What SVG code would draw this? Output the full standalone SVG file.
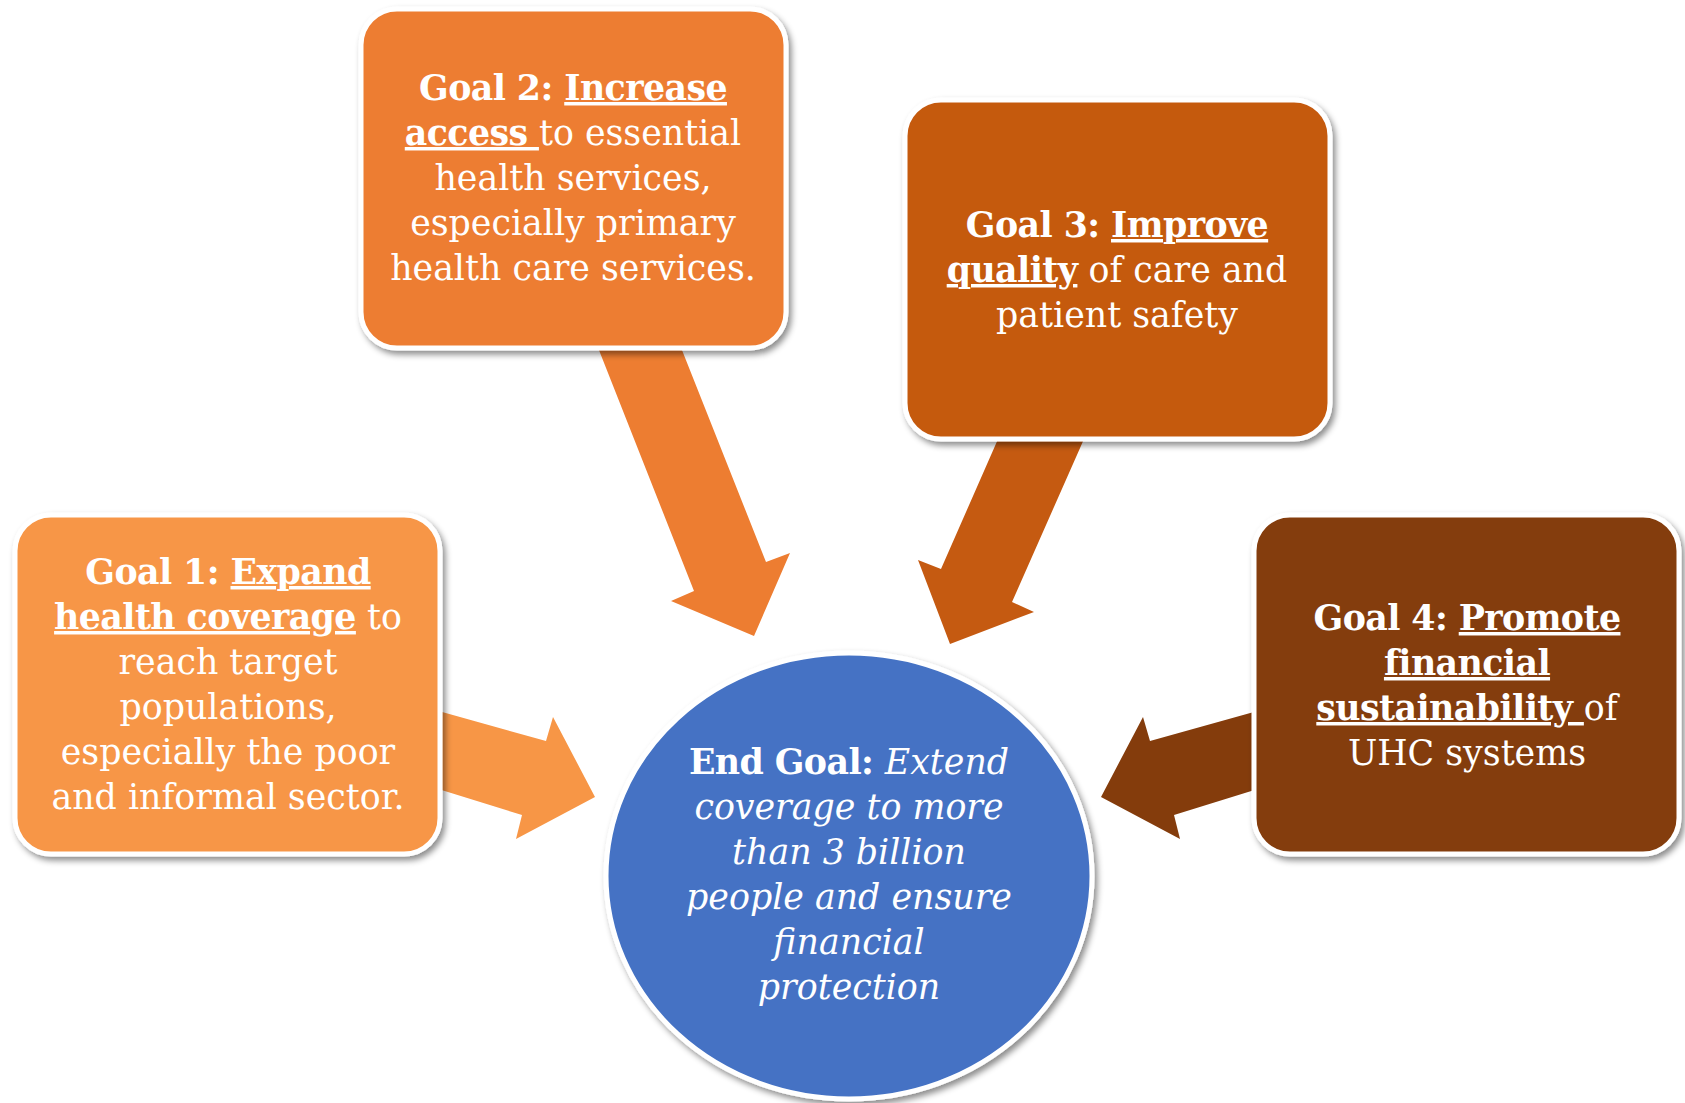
<svg xmlns="http://www.w3.org/2000/svg" width="1685" height="1103" viewBox="0 0 1685 1103">
<defs>
<filter id="sh" x="-10%" y="-10%" width="125%" height="125%">
<feDropShadow dx="3" dy="4" stdDeviation="3" flood-color="#000" flood-opacity="0.45"/>
</filter>
<style>
.box { stroke: #fff; stroke-width: 5; filter: url(#sh); }
.t { font-family: "DejaVu Serif", serif; font-size: 34.8px; fill: #fff; text-anchor: middle; }
.b { font-weight: bold; letter-spacing: -0.6px; }
.u { text-decoration: underline; }
.i { font-style: italic; }
</style>
</defs>
<rect width="1685" height="1103" fill="#fff"/>
<g id="connectors">
<polygon fill="#F79646" points="435,710 546,741 553,717 595,797 516,839 522,815 435,788"/>
<polygon fill="#ED7D31" points="595,340 678,340 766,562 790,553 754,636 671,601 694,591"/>
<polygon fill="#C55A11" points="1002,430 1088,430 1012,602 1034,612 950,644 918,560 941,569"/>
<polygon fill="#843C0C" points="1261,710 1150,741 1143,717 1101,797 1180,839 1174,815 1261,788"/>
</g>
<g id="goal1">
<rect class="box" x="15" y="515" width="425" height="339" rx="36" fill="#F79646"/>
<text class="t"><tspan x="228" y="584"><tspan class="b">Goal 1: </tspan><tspan class="b u">Expand</tspan></tspan><tspan x="228" y="629"><tspan class="b u">health coverage</tspan> to</tspan><tspan x="228" y="674">reach target</tspan><tspan x="228" y="719">populations,</tspan><tspan x="228" y="764">especially the poor</tspan><tspan x="228" y="809">and informal sector.</tspan></text>
</g>
<g id="goal2">
<rect class="box" x="361" y="9" width="425" height="339" rx="36" fill="#ED7D31"/>
<text class="t"><tspan x="573" y="100"><tspan class="b">Goal 2: </tspan><tspan class="b u">Increase</tspan></tspan><tspan x="573" y="145"><tspan class="b u">access </tspan>to essential</tspan><tspan x="573" y="190">health services,</tspan><tspan x="573" y="235">especially primary</tspan><tspan x="573" y="280">health care services.</tspan></text>
</g>
<g id="goal3">
<rect class="box" x="905" y="100" width="425" height="339" rx="36" fill="#C55A11"/>
<text class="t"><tspan x="1117" y="237"><tspan class="b">Goal 3: </tspan><tspan class="b u">Improve</tspan></tspan><tspan x="1117" y="282"><tspan class="b u">quality</tspan> of care and</tspan><tspan x="1117" y="327">patient safety</tspan></text>
</g>
<g id="goal4">
<rect class="box" x="1254" y="515" width="425" height="339" rx="36" fill="#843C0C"/>
<text class="t"><tspan x="1467" y="630"><tspan class="b">Goal 4: </tspan><tspan class="b u">Promote</tspan></tspan><tspan x="1467" y="675"><tspan class="b u">financial</tspan></tspan><tspan x="1467" y="720"><tspan class="b u">sustainability </tspan>of</tspan><tspan x="1467" y="765">UHC systems</tspan></text>
</g>
<g id="endgoal">
<ellipse class="box" cx="849" cy="876" rx="243" ry="223" fill="#4472C4"/>
<text class="t"><tspan x="849" y="774"><tspan class="b">End Goal: </tspan><tspan class="i">Extend</tspan></tspan><tspan class="i" x="849" y="819">coverage to more</tspan><tspan class="i" x="849" y="864">than 3 billion</tspan><tspan class="i" x="849" y="909">people and ensure</tspan><tspan class="i" x="849" y="954">financial</tspan><tspan class="i" x="849" y="999">protection</tspan></text>
</g>
</svg>
